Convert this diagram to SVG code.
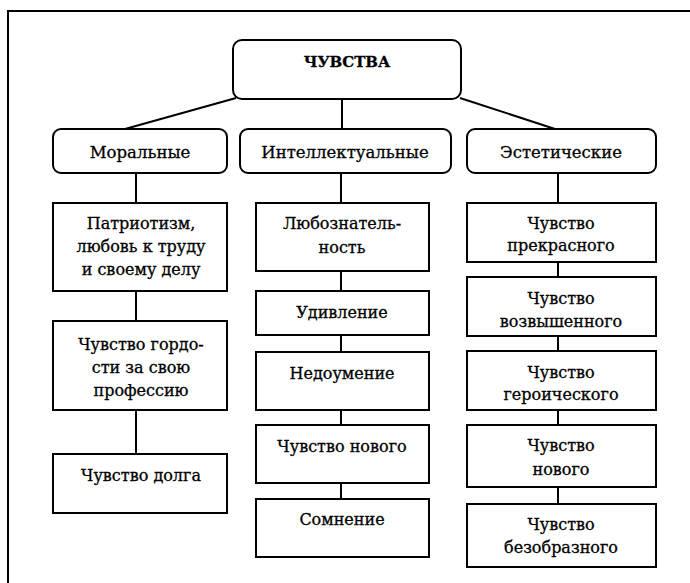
<svg xmlns="http://www.w3.org/2000/svg" width="690" height="583" viewBox="0 0 690 583">
<style>
  .box { fill: #fff; stroke: #000; stroke-width: 2; }
  .ln { stroke: #000; stroke-width: 2; fill: none; }
  text { font-family: "DejaVu Serif", "Liberation Serif", serif; font-size: 16px; fill: #000; stroke: #000; stroke-width: 0.3; text-anchor: middle; }
  .cat { font-size: 16.5px; }
  .top { font-weight: bold; font-size: 15px; }
</style>
<rect x="0" y="0" width="690" height="583" fill="#fff"/>
<rect id="frame" x="8" y="11" width="700" height="600" fill="none" stroke="#000" stroke-width="2"/>

<g id="connectors">
  <line class="ln" x1="236" y1="98" x2="125" y2="129"/>
  <line class="ln" x1="342" y1="99" x2="342" y2="129"/>
  <line class="ln" x1="460" y1="98" x2="555" y2="129"/>
  <line class="ln" x1="136" y1="173" x2="136" y2="203"/>
  <line class="ln" x1="136" y1="291" x2="136" y2="321"/>
  <line class="ln" x1="136" y1="410" x2="136" y2="454"/>
  <line class="ln" x1="341" y1="173" x2="341" y2="203"/>
  <line class="ln" x1="341" y1="271" x2="341" y2="291"/>
  <line class="ln" x1="341" y1="335" x2="341" y2="352"/>
  <line class="ln" x1="341" y1="410" x2="341" y2="425"/>
  <line class="ln" x1="341" y1="483" x2="341" y2="499"/>
  <line class="ln" x1="558" y1="173" x2="558" y2="203"/>
  <line class="ln" x1="558" y1="262" x2="558" y2="277"/>
  <line class="ln" x1="558" y1="336" x2="558" y2="351"/>
  <line class="ln" x1="558" y1="410" x2="558" y2="425"/>
  <line class="ln" x1="558" y1="487" x2="558" y2="504"/>
</g>

<g id="root">
  <rect class="box" x="233" y="40" width="228" height="59" rx="9"/>
  <text class="top" x="347" y="67">ЧУВСТВА</text>
</g>

<g id="moral">
  <rect class="box" x="53" y="129" width="174" height="44" rx="8"/>
  <text class="cat" x="140" y="158">Моральные</text>
</g>
<g id="intellectual">
  <rect class="box" x="240" y="129" width="211" height="44" rx="8"/>
  <text class="cat" x="345" y="158">Интеллектуальные</text>
</g>
<g id="aesthetic">
  <rect class="box" x="467" y="129" width="189" height="44" rx="8"/>
  <text class="cat" x="561" y="158">Эстетические</text>
</g>

<g id="m1">
  <rect class="box" x="53" y="203" width="174" height="88"/>
  <text x="141" y="229">Патриотизм,</text>
  <text x="141" y="252">любовь к труду</text>
  <text x="141" y="275">и своему делу</text>
</g>
<g id="m2">
  <rect class="box" x="53" y="321" width="174" height="89"/>
  <text x="141" y="350">Чувство гордо-</text>
  <text x="141" y="373">сти за свою</text>
  <text x="141" y="396">профессию</text>
</g>
<g id="m3">
  <rect class="box" x="53" y="454" width="174" height="59"/>
  <text x="141" y="481">Чувство долга</text>
</g>

<g id="i1">
  <rect class="box" x="256" y="203" width="173" height="68"/>
  <text x="342" y="229">Любознатель-</text>
  <text x="342" y="253">ность</text>
</g>
<g id="i2">
  <rect class="box" x="256" y="291" width="173" height="44"/>
  <text x="342" y="318">Удивление</text>
</g>
<g id="i3">
  <rect class="box" x="256" y="352" width="173" height="58"/>
  <text x="342" y="379">Недоумение</text>
</g>
<g id="i4">
  <rect class="box" x="256" y="425" width="173" height="58"/>
  <text x="342" y="452">Чувство нового</text>
</g>
<g id="i5">
  <rect class="box" x="256" y="499" width="173" height="58"/>
  <text x="342" y="525">Сомнение</text>
</g>

<g id="a1">
  <rect class="box" x="467" y="203" width="189" height="59"/>
  <text x="561" y="229">Чувство</text>
  <text x="561" y="251">прекрасного</text>
</g>
<g id="a2">
  <rect class="box" x="467" y="277" width="189" height="59"/>
  <text x="561" y="304">Чувство</text>
  <text x="561" y="327">возвышенного</text>
</g>
<g id="a3">
  <rect class="box" x="467" y="351" width="189" height="59"/>
  <text x="561" y="378">Чувство</text>
  <text x="561" y="400">героического</text>
</g>
<g id="a4">
  <rect class="box" x="467" y="425" width="189" height="62"/>
  <text x="561" y="451">Чувство</text>
  <text x="561" y="475">нового</text>
</g>
<g id="a5">
  <rect class="box" x="467" y="504" width="189" height="63"/>
  <text x="561" y="530">Чувство</text>
  <text x="561" y="553">безобразного</text>
</g>
</svg>
